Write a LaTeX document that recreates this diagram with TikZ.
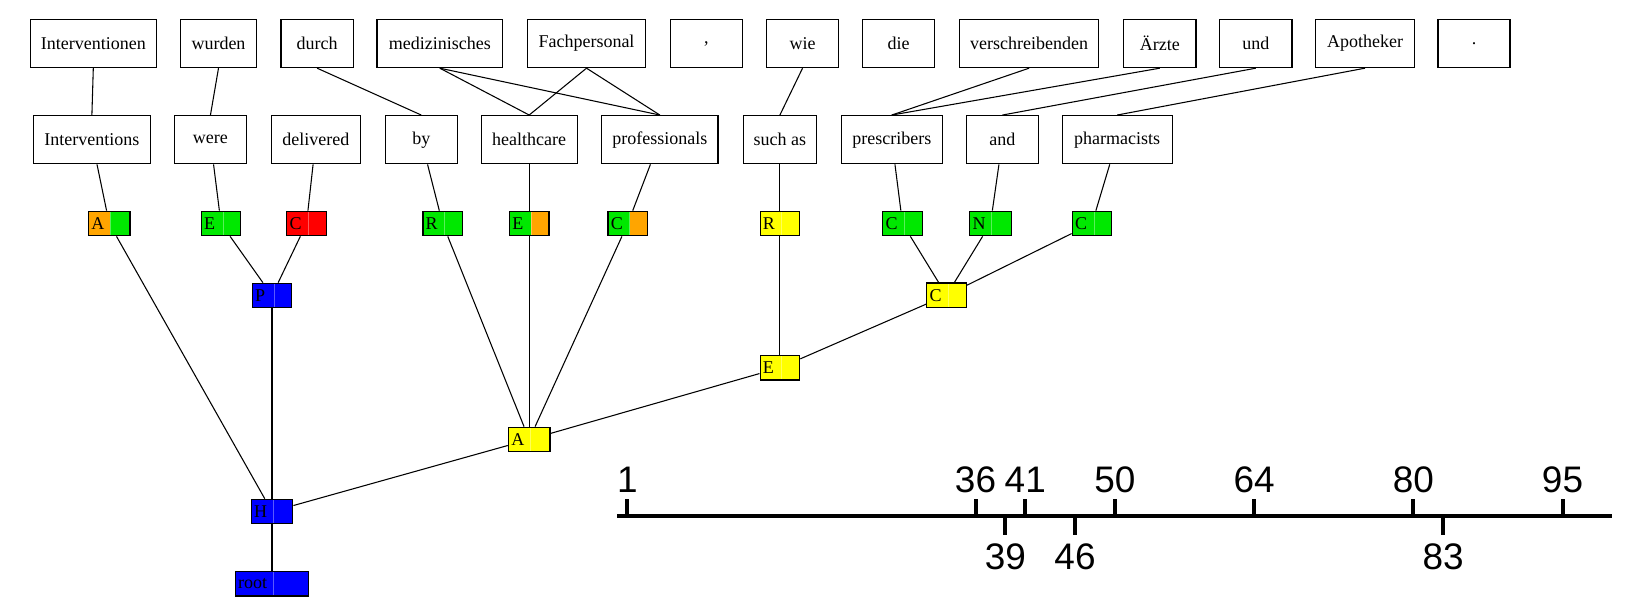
\documentclass[tikz,border=0pt]{standalone}
\usepackage{fontspec}
\setmainfont{Liberation Serif}
\newfontfamily\axisfont{Liberation Sans}
\definecolor{gvgreen}{RGB}{0,232,0}
\definecolor{gvorange}{RGB}{255,165,0}
\definecolor{gvblue}{RGB}{0,0,255}
\definecolor{gvred}{RGB}{255,0,0}
\definecolor{gvyellow}{RGB}{255,255,0}
\begin{document}
\begin{tikzpicture}[x=0.75pt,y=-0.75pt,
  word/.style={draw=black, line width=0.8pt, inner sep=0pt, minimum height=36.2pt,
    minimum width=#1, font=\fontsize{13.5}{16}\selectfont},
  tag/.style n args={4}{draw=black, line width=1pt, inner xsep=2.1pt, inner ysep=0pt,
    minimum height=18.3pt, text width=#1, align=left, font=\fontsize{13.5}{16}\selectfont,
    path picture={
      \fill[#3] (path picture bounding box.south west) rectangle ([xshift=#2]path picture bounding box.north west);
      \fill[#4] ([xshift=#2]path picture bounding box.south west) rectangle (path picture bounding box.north east);
      \draw[white, opacity=0.35, line width=0.3pt] ([xshift=#2]path picture bounding box.south west) -- ([xshift=#2]path picture bounding box.north west);
    }},
  link/.style={draw=black, line width=0.8pt},
  axisline/.style={line width=3pt},
  axislabel/.style={font=\axisfont\fontsize{27.7}{30}\selectfont, inner sep=0pt}
]
\useasboundingbox (0,0) rectangle (1630,601);

% top row (German)
\node[word=94.65pt] (g1) at (93.3,43.5) {Interventionen};
\node[word=56.85pt] (g2) at (218.5,43.5) {wurden};
\node[word=54.15pt] (g3) at (317.1,43.5) {durch};
\node[word=94.2pt] (g4) at (439.8,43.5) {medizinisches};
\node[word=88.8pt] (g5) at (586.5,43.5) {Fachpersonal};
\node[word=54.2pt] (g6) at (706.45,43.5) {,};
\node[word=54.2pt] (g7) at (802.55,43.5) {wie};
\node[word=54.45pt] (g8) at (898.5,43.5) {die};
\node[word=104.7pt] (g9) at (1029.1,43.5) {verschreibenden};
\node[word=54.2pt] (g10) at (1159.85,43.5) {Ärzte};
\node[word=54.2pt] (g11) at (1255.85,43.5) {und};
\node[word=74.55pt] (g12) at (1365,43.5) {Apotheker};
\node[word=54pt] (g13) at (1474,43.5) {.};

% middle row (English)
\node[word=87.3pt] (e1) at (91.9,139.7) {Interventions};
\node[word=54.2pt] (e2) at (210.45,139.7) {were};
\node[word=66.5pt] (e3) at (315.85,139.7) {delivered};
\node[word=54.2pt] (e4) at (421.25,139.7) {by};
\node[word=72.2pt] (e5) at (529.2,139.7) {healthcare};
\node[word=87.2pt] (e6) at (659.85,139.7) {professionals};
\node[word=55.3pt] (e7) at (779.9,139.7) {such as};
\node[word=76.05pt] (e8) at (891.8,139.7) {prescribers};
\node[word=54.2pt] (e9) at (1002.45,139.7) {and};
\node[word=82.3pt] (e10) at (1117.15,139.7) {pharmacists};

% tags
\node[tag={26.9pt}{16.1pt}{gvorange}{gvgreen}] (tA) at (109.25,223.5) {A};
\node[tag={25.4pt}{16.1pt}{gvgreen}{gvgreen}] (tE) at (221,223.5) {E};
\node[tag={25.4pt}{16.1pt}{gvred}{gvred}] (tC) at (306.5,223.5) {C};
\node[tag={25.4pt}{16.1pt}{gvgreen}{gvgreen}] (tR) at (442.6,223.5) {R};
\node[tag={25.4pt}{16.1pt}{gvgreen}{gvorange}] (tE2) at (529.2,223.5) {E};
\node[tag={25.4pt}{16.1pt}{gvgreen}{gvorange}] (tC2) at (627.8,223.5) {C};
\node[tag={25.4pt}{16.1pt}{gvyellow}{gvyellow}] (tR2) at (779.9,223.5) {R};
\node[tag={25.4pt}{16.1pt}{gvgreen}{gvgreen}] (tC3) at (902.5,223.5) {C};
\node[tag={26.9pt}{16.1pt}{gvgreen}{gvgreen}] (tN) at (990.5,223.5) {N};
\node[tag={25.4pt}{16.1pt}{gvgreen}{gvgreen}] (tC4) at (1092,223.5) {C};
\node[tag={25.4pt}{16.1pt}{gvblue}{gvblue}] (nP) at (272,295.5) {P};
\node[tag={25.4pt}{16.1pt}{gvyellow}{gvyellow}] (nC) at (946.5,295.3) {C};
\node[tag={25.4pt}{16.1pt}{gvyellow}{gvyellow}] (nE) at (779.9,367.7) {E};
\node[tag={26.9pt}{16.1pt}{gvyellow}{gvyellow}] (nA) at (529.2,439.5) {A};
\node[tag={26.9pt}{16.1pt}{gvblue}{gvblue}] (nH) at (272,511.5) {H};
\node[tag={50.85pt}{28.5pt}{gvblue}{gvblue}] (nroot) at (272,583.7) {root};

% alignment links
\draw[link] (g1.south) -- (e1.north);
\draw[link] (g2.south) -- (e2.north);
\draw[link] (g3.south) -- (e4.north);
\draw[link] (g4.south) -- (e5.north);
\draw[link] (g4.south) -- (e6.north);
\draw[link] (g5.south) -- (e5.north);
\draw[link] (g5.south) -- (e6.north);
\draw[link] (g7.south) -- (e7.north);
\draw[link] (g9.south) -- (e8.north);
\draw[link] (g10.south) -- (e8.north);
\draw[link] (g11.south) -- (e9.north);
\draw[link] (g12.south) -- (e10.north);

% words to tags
\draw[link] (e1) -- (tA);
\draw[link] (e2) -- (tE);
\draw[link] (e3) -- (tC);
\draw[link] (e4) -- (tR);
\draw[link] (e5) -- (tE2);
\draw[link] (e6) -- (tC2);
\draw[link] (e7) -- (tR2);
\draw[link] (e8) -- (tC3);
\draw[link] (e9) -- (tN);
\draw[link] (e10) -- (tC4);

% tree
\draw[link] (tA) -- (nH);
\draw[link] (tE) -- (nP);
\draw[link] (tC) -- (nP);
\draw[link] (nP) -- (nH);
\draw[link] (tR) -- (nA);
\draw[link] (tE2) -- (nA);
\draw[link] (tC2) -- (nA);
\draw[link] (tR2) -- (nE);
\draw[link] (tC3) -- (nC);
\draw[link] (tN) -- (nC);
\draw[link] (tC4) -- (nC);
\draw[link] (nC) -- (nE);
\draw[link] (nE) -- (nA);
\draw[link] (nA) -- (nH);
\draw[link] (nH) -- (nroot);

% axis
\coordinate (ax0) at (617.35,516);
\coordinate (ax100) at (1612.2,516);
\draw[axisline] (ax0) -- (ax100);
\foreach \n in {1,36,41,50,64,80,95} {
  \pgfmathsetmacro\xx{627.3+(\n-1)*9.949}
  \draw[axisline] (\xx,516) -- (\xx,499);
  \node[axislabel, anchor=base] (top\n) at (\xx,492.3) {\n};
}
\foreach \n in {39,46,83} {
  \pgfmathsetmacro\xx{627.3+(\n-1)*9.949}
  \draw[axisline] (\xx,516) -- (\xx,535);
  \node[axislabel, anchor=base] (bot\n) at (\xx,569.3) {\n};
}
\end{tikzpicture}
\end{document}
